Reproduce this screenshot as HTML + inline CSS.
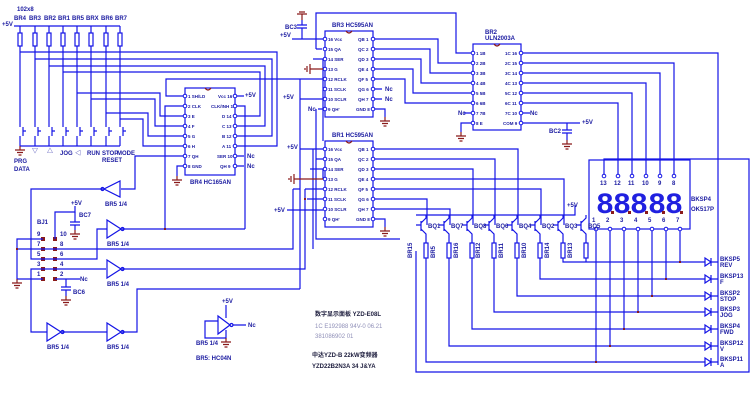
<!DOCTYPE html>
<html><head><meta charset="utf-8"><style>
html,body{margin:0;padding:0;background:#fff;}
svg{display:block;}
text{font-family:"Liberation Sans","Noto Sans CJK SC",sans-serif;font-size:6px;font-weight:bold;fill:#1a1aa0;}
.g{fill:#9090b8;font-weight:normal;}
.k{fill:#202040;}
.w{stroke:#1414e6;stroke-width:1.2;fill:none;}
.r{stroke:#8a1a1a;stroke-width:1.2;fill:none;}
.d{fill:#8a1a1a;}
.dg{font-size:30px;font-weight:bold;fill:#2020e0;font-family:"Liberation Mono",monospace;}
</style></head><body>
<svg width="754" height="400" viewBox="0 0 754 400" xmlns="http://www.w3.org/2000/svg">
<defs>
<g id="gnd"><path class="r" d="M0 0V4M-5 4H5M-3 6.5H3M-1.5 9H1.5"/></g>
<g id="pin"><circle r="1.8" fill="#fff" stroke="#1414e6" stroke-width="1"/></g>
</defs>
<text x="17" y="11" font-size="5">102x8</text>
<text x="2" y="26">+5V</text>
<path class="w" d="M14 26H120"/>
<g font-size="5">
<text x="14" y="20">BR4</text><text x="29" y="20">BR3</text><text x="44" y="20">BR2</text><text x="58" y="20">BR1</text><text x="72" y="20">BR5</text><text x="86" y="20">BRX</text><text x="101" y="20">BR6</text><text x="115" y="20">BR7</text>
</g>
<path class="w" d="M20 26V33M20 46V127M20 136V146M35 26V33M35 46V127M35 136V146M49 26V33M49 46V127M49 136V146M63 26V33M63 46V127M63 136V146M77 26V33M77 46V127M77 136V146M91 26V33M91 46V127M91 136V146M106 26V33M106 46V127M106 136V146M120 26V33M120 46V127M120 136V146M20 146H120"/>
<g class="w">
<rect x="18" y="33" width="4" height="13"/><rect x="33" y="33" width="4" height="13"/><rect x="47" y="33" width="4" height="13"/><rect x="61" y="33" width="4" height="13"/><rect x="75" y="33" width="4" height="13"/><rect x="89" y="33" width="4" height="13"/><rect x="104" y="33" width="4" height="13"/><rect x="118" y="33" width="4" height="13"/>
<path d="M23 127V136M38 127V136M52 127V136M66 127V136M80 127V136M94 127V136M109 127V136M123 127V136M23 131H26M38 131H41M52 131H55M66 131H69M80 131H83M94 131H97M109 131H112M123 131H126"/>
</g>
<use href="#gnd" x="20" y="146"/>
<g font-size="5">
<text x="14" y="163">PRG</text><text x="14" y="171">DATA</text>
<text x="32" y="153">▽</text><text x="47" y="153">△</text><text x="60" y="155">JOG</text><text x="75" y="155">◁</text><text x="87" y="155">RUN</text><text x="102" y="155">STOP</text><text x="102" y="162">RESET</text><text x="117" y="155">MODE</text>
</g>
<path class="w" d="M20 52H277V146H237M35 59H272V136H237M49 66H265V126H237M63 72H260V116H237M77 93H160V116H183M91 99H155V126H183M106 113H148V136H183M120 119H143V146H183"/>
<rect class="w" x="185" y="88" width="50" height="87"/>
<path d="M205 88q3 4 6 0" class="r"/>
<g style="font-size:4.5px">
<text x="188" y="98" style="font-size:4.5px">1 SH/LD</text><text x="188" y="108" style="font-size:4.5px">2 CLK</text><text x="188" y="118" style="font-size:4.5px">3 E</text><text x="188" y="128" style="font-size:4.5px">4 F</text><text x="188" y="138" style="font-size:4.5px">5 G</text><text x="188" y="148" style="font-size:4.5px">6 H</text><text x="188" y="158" style="font-size:4.5px">7 QH</text><text x="188" y="168" style="font-size:4.5px">8 GND</text>
<text x="218" y="98" style="font-size:4.5px">Vcc 16</text><text x="211" y="108" style="font-size:4.5px">CLK/INH 15</text><text x="222" y="118" style="font-size:4.5px">D 14</text><text x="222" y="128" style="font-size:4.5px">C 13</text><text x="222" y="138" style="font-size:4.5px">B 12</text><text x="222" y="148" style="font-size:4.5px">A 11</text><text x="217" y="158" style="font-size:4.5px">SER 10</text><text x="220" y="168" style="font-size:4.5px">QH 9</text>
</g>
<g>
<use href="#pin" x="185" y="96"/><use href="#pin" x="185" y="106"/><use href="#pin" x="185" y="116"/><use href="#pin" x="185" y="126"/><use href="#pin" x="185" y="136"/><use href="#pin" x="185" y="146"/><use href="#pin" x="185" y="156"/><use href="#pin" x="185" y="166"/>
<use href="#pin" x="235" y="96"/><use href="#pin" x="235" y="106"/><use href="#pin" x="235" y="116"/><use href="#pin" x="235" y="126"/><use href="#pin" x="235" y="136"/><use href="#pin" x="235" y="146"/><use href="#pin" x="235" y="156"/><use href="#pin" x="235" y="166"/>
</g>
<text x="245" y="97">+5V</text><text x="247" y="158">Nc</text><text x="247" y="168">Nc</text>
<text x="190" y="184" font-size="5">BR4  HC165AN</text>
<path class="w" d="M237 96H244M237 156H244M237 166H244M237 106H245V229M183 166H177V176M183 96H166V79H300M183 106H165V229M183 156H135V189H121"/>
<use href="#gnd" x="177" y="176"/>
<text x="37" y="224" font-size="5">BJ1</text>
<g font-size="5">
<text x="37" y="236">9</text><text x="37" y="246">7</text><text x="37" y="256">5</text><text x="37" y="266">3</text><text x="37" y="276">1</text>
<text x="60" y="236">10</text><text x="60" y="246">8</text><text x="60" y="256">6</text><text x="60" y="266">4</text><text x="60" y="276">2</text>
</g>
<g class="d">
<rect x="41" y="237" width="4" height="4"/><rect x="53" y="237" width="4" height="4"/><rect x="41" y="247" width="4" height="4"/><rect x="53" y="247" width="4" height="4"/><rect x="41" y="257" width="4" height="4"/><rect x="53" y="257" width="4" height="4"/><rect x="41" y="267" width="4" height="4"/><rect x="53" y="267" width="4" height="4"/><rect x="41" y="277" width="4" height="4"/><rect x="53" y="277" width="4" height="4"/>
</g>
<path class="w" d="M43 239H17V279H43M17 249H293V189M55 249H43M55 259H31V189H103M55 259H97V229H107M55 269H106M43 269H31V332H47M55 239V212H75V206M55 279H80M55 269H43"/>
<path class="w" d="M62 332H107M122 332H137V289H300M122 269H305V189M122 229H245"/>
<use href="#gnd" x="17" y="279"/>
<text x="71" y="205" font-size="5">+5V</text><text x="79" y="217" font-size="5">BC7</text>
<path class="w" d="M75 212V222M70 222H80M70 225H80M75 225V230"/><use href="#gnd" x="75" y="230"/>
<path class="w" d="M66 279V287M61 287H71M61 290H71M66 290V296"/><use href="#gnd" x="66" y="296"/><text x="73" y="294" font-size="5">BC6</text>
<text x="80" y="281" font-size="5">Nc</text>
<g class="w">
<path d="M120 181V197L104 189Z"/><circle cx="102.5" cy="189" r="1.5"/>
<path d="M107 220V238L121 229Z"/><circle cx="122.5" cy="229" r="1.5"/>
<path d="M107 260V278L121 269Z"/><circle cx="122.5" cy="269" r="1.5"/>
<path d="M47 323V341L61 332Z"/><circle cx="62.5" cy="332" r="1.5"/>
<path d="M107 323V341L121 332Z"/><circle cx="122.5" cy="332" r="1.5"/>
<path d="M218 316V334L230 325Z"/><circle cx="231.5" cy="325" r="1.5"/>
<path d="M233 325H246M226 318V305M218 321H205V338H226V333M226 330V338"/>
</g>
<g font-size="5">
<text x="105" y="206">BR5 1/4</text><text x="107" y="246">BR5 1/4</text><text x="107" y="286">BR5 1/4</text><text x="47" y="349">BR5 1/4</text><text x="107" y="349">BR5 1/4</text>
<text x="222" y="303">+5V</text><text x="248" y="327">Nc</text><text x="196" y="345">BR5 1/4</text><text x="196" y="360">BR5: HC04N</text>
</g>
<use href="#gnd" x="226" y="338"/>
<text x="280" y="37" font-size="5">+5V</text><text x="285" y="29" font-size="5">BC3</text>
<path class="w" d="M292 39H323M302 20V25M297 25H307M297 28H307M302 28V39M316 49H322M316 49V13H456V53H471"/>
<path class="r" d="M302 20V14M297 14H307M299 12H305"/>
<rect class="w" x="325" y="31" width="48" height="86"/>
<path d="M346 31q3 4 6 0" class="r"/>
<text x="332" y="27" font-size="5">BR3  HC595AN</text>
<g>
<text x="328" y="41" style="font-size:4.5px">16 Vcc</text><text x="328" y="51" style="font-size:4.5px">15 QA</text><text x="328" y="61" style="font-size:4.5px">14 SER</text><text x="328" y="71" style="font-size:4.5px">13 G</text><text x="328" y="81" style="font-size:4.5px">12 RCLK</text><text x="328" y="91" style="font-size:4.5px">11 SCLK</text><text x="328" y="101" style="font-size:4.5px">10 SCLR</text><text x="328" y="111" style="font-size:4.5px">9 QH'</text>
<text x="358" y="41" style="font-size:4.5px">QB 1</text><text x="358" y="51" style="font-size:4.5px">QC 2</text><text x="358" y="61" style="font-size:4.5px">QD 3</text><text x="358" y="71" style="font-size:4.5px">QE 4</text><text x="358" y="81" style="font-size:4.5px">QF 5</text><text x="358" y="91" style="font-size:4.5px">QG 6</text><text x="358" y="101" style="font-size:4.5px">QH 7</text><text x="356" y="111" style="font-size:4.5px">GND 8</text>
</g>
<g>
<use href="#pin" x="325" y="39"/><use href="#pin" x="325" y="49"/><use href="#pin" x="325" y="59"/><use href="#pin" x="325" y="69"/><use href="#pin" x="325" y="79"/><use href="#pin" x="325" y="89"/><use href="#pin" x="325" y="99"/><use href="#pin" x="325" y="109"/>
<use href="#pin" x="373" y="39"/><use href="#pin" x="373" y="49"/><use href="#pin" x="373" y="59"/><use href="#pin" x="373" y="69"/><use href="#pin" x="373" y="79"/><use href="#pin" x="373" y="89"/><use href="#pin" x="373" y="99"/><use href="#pin" x="373" y="109"/>
</g>
<path class="w" d="M375 89H382M375 99H382M375 109H385V117M323 109H318M300 79H323M300 99H323M313 59H323V141"/>
<text x="385" y="91" font-size="5">Nc</text><text x="385" y="101" font-size="5">Nc</text><text x="308" y="111" font-size="5">Nc</text><text x="283" y="99" font-size="5">+5V</text>
<use href="#gnd" x="385" y="117"/>
<path class="r" d="M323 69H310M310 64V74M307 66V72M305 68V70"/>
<rect class="w" x="325" y="141" width="48" height="86"/>
<path d="M346 141q3 4 6 0" class="r"/>
<text x="332" y="137" font-size="5">BR1  HC595AN</text>
<g>
<text x="328" y="151" style="font-size:4.5px">16 Vcc</text><text x="328" y="161" style="font-size:4.5px">15 QA</text><text x="328" y="171" style="font-size:4.5px">14 SER</text><text x="328" y="181" style="font-size:4.5px">13 G</text><text x="328" y="191" style="font-size:4.5px">12 RCLK</text><text x="328" y="201" style="font-size:4.5px">11 SCLK</text><text x="328" y="211" style="font-size:4.5px">10 SCLR</text><text x="328" y="221" style="font-size:4.5px">9 QH'</text>
<text x="358" y="151" style="font-size:4.5px">QB 1</text><text x="358" y="161" style="font-size:4.5px">QC 2</text><text x="358" y="171" style="font-size:4.5px">QD 3</text><text x="358" y="181" style="font-size:4.5px">QE 4</text><text x="358" y="191" style="font-size:4.5px">QF 5</text><text x="358" y="201" style="font-size:4.5px">QG 6</text><text x="358" y="211" style="font-size:4.5px">QH 7</text><text x="356" y="221" style="font-size:4.5px">GND 8</text>
</g>
<g>
<use href="#pin" x="325" y="149"/><use href="#pin" x="325" y="159"/><use href="#pin" x="325" y="169"/><use href="#pin" x="325" y="179"/><use href="#pin" x="325" y="189"/><use href="#pin" x="325" y="199"/><use href="#pin" x="325" y="209"/><use href="#pin" x="325" y="219"/>
<use href="#pin" x="373" y="149"/><use href="#pin" x="373" y="159"/><use href="#pin" x="373" y="169"/><use href="#pin" x="373" y="179"/><use href="#pin" x="373" y="189"/><use href="#pin" x="373" y="199"/><use href="#pin" x="373" y="209"/><use href="#pin" x="373" y="219"/>
</g>
<text x="287" y="149" font-size="5">+5V</text><text x="274" y="212" font-size="5">+5V</text>
<path class="w" d="M300 149H323M287 210H323M375 219H385V227M316 159H323M316 109V239H400M300 79V289M305 189H323M307 199H323M310 169H323V179M293 189H300M313 149V249"/>
<use href="#gnd" x="385" y="227"/>
<path class="r" d="M323 179H294M294 174V184M291 176V182M289 178V180"/>
<path class="w" d="M375 149H518V225M375 159H495V225M375 169H473V225M375 179H564V225M375 189H541V225M375 199H427V225M375 209H450V225"/>
<rect class="w" x="473" y="44" width="48" height="86"/>
<path d="M494 44q3 4 6 0" class="r"/>
<text x="485" y="34" font-size="5">BR2</text><text x="485" y="40" font-size="5">ULN2003A</text>
<g>
<text x="476" y="55" style="font-size:4.5px">1 1B</text><text x="476" y="65" style="font-size:4.5px">2 2B</text><text x="476" y="75" style="font-size:4.5px">3 3B</text><text x="476" y="85" style="font-size:4.5px">4 4B</text><text x="476" y="95" style="font-size:4.5px">5 5B</text><text x="476" y="105" style="font-size:4.5px">6 6B</text><text x="476" y="115" style="font-size:4.5px">7 7B</text><text x="476" y="125" style="font-size:4.5px">8 E</text>
<text x="505" y="55" style="font-size:4.5px">1C 16</text><text x="505" y="65" style="font-size:4.5px">2C 15</text><text x="505" y="75" style="font-size:4.5px">3C 14</text><text x="505" y="85" style="font-size:4.5px">4C 13</text><text x="505" y="95" style="font-size:4.5px">5C 12</text><text x="505" y="105" style="font-size:4.5px">6C 11</text><text x="505" y="115" style="font-size:4.5px">7C 10</text><text x="503" y="125" style="font-size:4.5px">COM 9</text>
</g>
<g>
<use href="#pin" x="473" y="53"/><use href="#pin" x="473" y="63"/><use href="#pin" x="473" y="73"/><use href="#pin" x="473" y="83"/><use href="#pin" x="473" y="93"/><use href="#pin" x="473" y="103"/><use href="#pin" x="473" y="113"/><use href="#pin" x="473" y="123"/>
<use href="#pin" x="521" y="53"/><use href="#pin" x="521" y="63"/><use href="#pin" x="521" y="73"/><use href="#pin" x="521" y="83"/><use href="#pin" x="521" y="93"/><use href="#pin" x="521" y="103"/><use href="#pin" x="521" y="113"/><use href="#pin" x="521" y="123"/>
</g>
<path class="w" d="M375 39H438V63H471M375 49H430V73H471M375 59H421V83H471M375 69H413V93H471M375 79H405V103H471M464 113H471M523 113H530M471 123H461V132M523 123H580"/>
<text x="458" y="115" font-size="5">Nc</text><text x="530" y="115" font-size="5">Nc</text><text x="582" y="124" font-size="5">+5V</text><text x="549" y="133" font-size="5">BC2</text>
<use href="#gnd" x="461" y="132"/>
<path class="w" d="M567 123V130M562 130H572M562 133H572M567 133V140"/><use href="#gnd" x="567" y="140"/>
<path class="w" d="M523 53H718V365M523 63H674V174M523 73H660V174M523 83H646V174M523 93H632V174M523 103H618V174M604 174V159H749V372H416V251"/>
<rect class="w" x="589" y="160" width="101" height="69"/>
<g><use href="#pin" x="604" y="176"/><use href="#pin" x="618" y="176"/><use href="#pin" x="632" y="176"/><use href="#pin" x="646" y="176"/><use href="#pin" x="660" y="176"/><use href="#pin" x="674" y="176"/></g>
<g font-size="5"><text x="600" y="185">13</text><text x="614" y="185">12</text><text x="628" y="185">11</text><text x="642" y="185">10</text><text x="658" y="185">9</text><text x="672" y="185">8</text></g>
<text x="596" y="213" class="dg">8</text><text x="613" y="213" class="dg">8</text><text x="630" y="213" class="dg">8</text><text x="648" y="213" class="dg">8</text><text x="665" y="213" class="dg">8</text>
<g class="d"><rect x="611" y="211" width="3" height="3"/><rect x="628" y="211" width="3" height="3"/><rect x="645" y="211" width="3" height="3"/><rect x="662" y="211" width="3" height="3"/><rect x="680" y="211" width="3" height="3"/></g>
<text x="691" y="201" font-size="5">BKSP4</text><text x="691" y="211" font-size="5">OK517P</text>
<g font-size="5"><text x="592" y="222">1</text><text x="606" y="222">2</text><text x="620" y="222">3</text><text x="634" y="222">4</text><text x="648" y="222">5</text><text x="662" y="222">6</text><text x="676" y="222">7</text></g>
<path class="w" d="M596 231V362M610 231V346M624 231V329M638 231V312M652 231V296M666 231V279M680 231V262"/>
<g><use href="#pin" x="596" y="229"/><use href="#pin" x="610" y="229"/><use href="#pin" x="624" y="229"/><use href="#pin" x="638" y="229"/><use href="#pin" x="652" y="229"/><use href="#pin" x="666" y="229"/><use href="#pin" x="680" y="229"/></g>
<path class="w" d="M416 215H575V205"/><text x="567" y="207" font-size="5">+5V</text>
<g class="w">
<path d="M416 225H421M421 221V231M421 223L426 218V215M421 229L426 234V243"/>
<path d="M439 225H444M444 221V231M444 223L449 218V215M444 229L449 234V243"/>
<path d="M462 225H467M467 221V231M467 223L472 218V215M467 229L472 234V243"/>
<path d="M484 225H489M489 221V231M489 223L494 218V215M489 229L494 234V243"/>
<path d="M507 225H512M512 221V231M512 223L517 218V215M512 229L517 234V243"/>
<path d="M530 225H535M535 221V231M535 223L540 218V215M535 229L540 234V243"/>
<path d="M553 225H558M558 221V231M558 223L563 218V215M558 229L563 234V243"/>
<path d="M576 225H581M581 221V231M581 223L586 218V215M581 229L586 234V243"/>
<rect x="424" y="243" width="4" height="15"/><rect x="447" y="243" width="4" height="15"/><rect x="470" y="243" width="4" height="15"/><rect x="492" y="243" width="4" height="15"/><rect x="515" y="243" width="4" height="15"/><rect x="538" y="243" width="4" height="15"/><rect x="561" y="243" width="4" height="15"/><rect x="584" y="243" width="4" height="15"/>
</g>
<g font-size="5"><text x="428" y="228">BQ1</text><text x="451" y="228">BQ7</text><text x="474" y="228">BQ8</text><text x="496" y="228">BQ6</text><text x="519" y="228">BQ4</text><text x="542" y="228">BQ2</text><text x="565" y="228">BQ3</text><text x="588" y="228">BQ5</text></g>
<g font-size="5">
<text transform="translate(412,258) rotate(-90)">BR15</text><text transform="translate(435,258) rotate(-90)">BR5</text><text transform="translate(458,258) rotate(-90)">BR16</text><text transform="translate(480,258) rotate(-90)">BR12</text><text transform="translate(503,258) rotate(-90)">BR11</text><text transform="translate(526,258) rotate(-90)">BR10</text><text transform="translate(549,258) rotate(-90)">BR14</text><text transform="translate(572,258) rotate(-90)">BR13</text>
</g>
<path class="w" d="M426 258V362H705M449 258V346H705M472 258V329H705M494 258V312H705M517 258V296H705M540 258V279H705M563 258V262H705M586 258V262"/>
<g class="w">
<path d="M705 258V266L711 262Z M711 258V266"/><path d="M705 275V283L711 279Z M711 275V283"/><path d="M705 292V300L711 296Z M711 292V300"/><path d="M705 308V316L711 312Z M711 308V316"/><path d="M705 325V333L711 329Z M711 325V333"/><path d="M705 342V350L711 346Z M711 342V350"/><path d="M705 358V366L711 362Z M711 358V366"/>
<path d="M711 262H718M711 279H718M711 296H718M711 312H718M711 329H718M711 346H718M711 362H718"/>
</g>
<g font-size="5">
<text x="720" y="261">BKSP5</text><text x="720" y="267">REV</text><text x="720" y="278">BKSP13</text><text x="720" y="284">F</text><text x="720" y="295">BKSP2</text><text x="720" y="301">STOP</text><text x="720" y="311">BKSP3</text><text x="720" y="317">JOG</text><text x="720" y="328">BKSP4</text><text x="720" y="334">FWD</text><text x="720" y="345">BKSP12</text><text x="720" y="351">V</text><text x="720" y="361">BKSP11</text><text x="720" y="367">A</text>
</g>
<g class="d"><rect x="679" y="261" width="2" height="2"/><rect x="665" y="278" width="2" height="2"/><rect x="651" y="295" width="2" height="2"/><rect x="637" y="311" width="2" height="2"/><rect x="623" y="328" width="2" height="2"/><rect x="609" y="345" width="2" height="2"/><rect x="595" y="361" width="2" height="2"/><rect x="164" y="228" width="2" height="2"/><rect x="304" y="198" width="2" height="2"/><rect x="16" y="248" width="2" height="2"/></g>
<text x="315" y="316" class="k">数字显示面板   YZD-E08L</text>
<text x="315" y="328" class="g">1C E192988 94V-0 06.21</text>
<text x="315" y="338" class="g">381086902 01</text>
<text x="312" y="357" class="k">中达YZD-B 22kW变频器</text>
<text x="312" y="368" class="k">YZD22B2N3A   34 J&amp;YA</text>
</svg>
</body></html>
